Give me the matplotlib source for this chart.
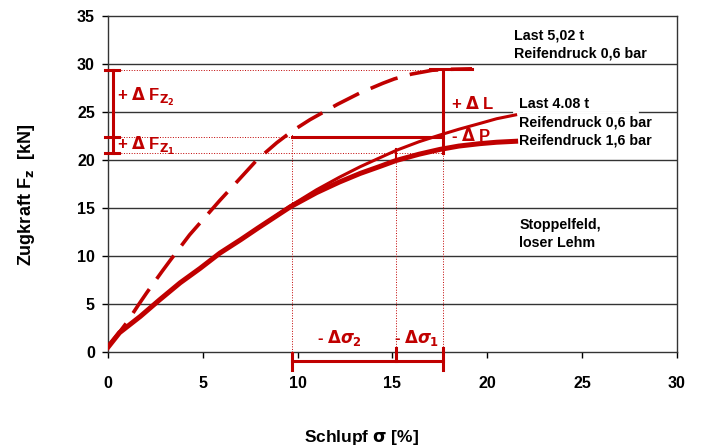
import matplotlib.pyplot as plt

red = "#C00000"
plt.rcParams['font.family'] = ['Liberation Sans', 'DejaVu Sans']
plt.rcParams['font.weight'] = 'bold'

# Last 5,02 t, Reifendruck 0,6 bar (dashed)
x_502 = [0.0, 0.5, 1.0, 1.6, 2.05, 2.85, 3.3, 3.8, 4.3, 5.1, 5.9, 6.6, 7.85, 8.9, 9.7,
         10.65, 12.1, 13.3, 14.5, 15.1, 16.0, 17.1, 18.0, 19.2]
y_502 = [0.6, 1.8, 3.1, 4.9, 6.2, 8.4, 9.6, 10.9, 12.2, 14.0, 15.8, 17.3, 20.0, 21.8, 23.0,
         24.2, 25.8, 27.0, 28.0, 28.45, 28.95, 29.35, 29.45, 29.5]

# Last 4.08 t, Reifendruck 0,6 bar
x_06 = [0.0, 0.6, 1.7, 2.7, 3.8, 4.85, 5.9, 7.0, 7.9, 9.6, 11.0, 12.2, 13.3, 14.3, 15.2,
        16.4, 17.5, 18.5, 19.6, 20.5, 21.5]
y_06 = [0.5, 2.0, 3.7, 5.4, 7.2, 8.7, 10.3, 11.7, 12.9, 15.2, 16.9, 18.2, 19.3, 20.2, 21.0,
        21.9, 22.6, 23.2, 23.8, 24.3, 24.7]

# Last 4.08 t, Reifendruck 1,6 bar
x_16 = [0.0, 0.6, 1.7, 2.7, 3.8, 4.85, 5.9, 7.0, 7.9, 9.6, 11.0, 12.2, 13.3, 14.3, 15.2,
        16.4, 17.5, 18.5, 19.6, 20.5, 21.5]
y_16 = [0.5, 2.0, 3.7, 5.4, 7.2, 8.7, 10.3, 11.7, 12.9, 15.1, 16.6, 17.7, 18.6, 19.3, 19.95,
        20.6, 21.1, 21.45, 21.7, 21.85, 21.95]

# annotation levels
fz_top = 29.4
fz_mid = 22.4
fz_low = 20.7
s_2 = 9.7
s_1 = 15.2
s_0 = 17.65

fig = plt.figure(figsize=(7.02, 4.46), dpi=100)
ax = fig.add_axes([0.154, 0.211, 0.81, 0.753])

ax.set_xlim(0, 30)
ax.set_ylim(0, 35)
ax.set_xticks(range(0, 31, 5))
ax.set_yticks(range(0, 36, 5))
ax.tick_params(labelsize=11.5, length=4, width=1, colors="black", direction="out")
ax.tick_params(axis="x", pad=13)
ax.tick_params(axis="y", pad=5.5)
for s in ax.spines.values():
    s.set_color("#333333")
    s.set_linewidth(1)
for yv in range(5, 35, 5):
    ax.axhline(yv, color="#333333", lw=1, zorder=1)
# gap in the 25 line behind the "Last 4.08 t" text box
ax.plot([21.4, 27.9], [25, 25], color="white", lw=2, zorder=1.5)

# curves
ax.plot(x_502, y_502, color=red, lw=2.6, dashes=(8, 3.5), zorder=3)
ax.plot(x_06, y_06, color=red, lw=2.2, zorder=3)
ax.plot(x_16, y_16, color=red, lw=3.6, zorder=3)

# thin dotted guides
dot = dict(color=red, lw=0.7, ls=":", zorder=2)
ax.plot([0, s_0], [fz_top, fz_top], **dot)
ax.plot([0, s_2], [fz_mid, fz_mid], **dot)
ax.plot([0, s_0], [fz_low, fz_low], **dot)
ax.plot([s_2, s_2], [-1.9, 22.8], clip_on=False, **dot)
ax.plot([s_1, s_1], [0, 20.0], **dot)
ax.plot([s_0, s_0], [0, fz_low], **dot)

# solid annotation lines
sol = dict(color=red, lw=2.2, zorder=4, clip_on=False)
ax.plot([s_2, s_0], [fz_mid, fz_mid], **sol)
ax.plot([s_0, s_0], [fz_top, fz_low], **sol)
ax.plot([17.0, 19.2], [29.5, 29.5], **sol)
ax.plot([s_1, s_1], [20.0, 21.1], color=red, lw=1.5, zorder=4)

# left bracket
ax.plot([0.25, 0.25], [fz_top, fz_low], **sol)
for yv in (fz_top, fz_mid, fz_low):
    ax.plot([-0.15, 0.55], [yv, yv], **sol)

# bottom bracket
ax.plot([s_2, s_0], [-1.0, -1.0], **sol)
ax.plot([s_2, s_2], [-0.1, -1.9], **sol)
ax.plot([s_1, s_1], [0.4, -1.0], **sol)
ax.plot([s_0, s_0], [0.4, -1.9], **sol)

# red labels
rt = dict(color=red, fontsize=12, fontweight="bold", zorder=5)
ax.text(0.45, 26.6, r"+ $\Delta$ F$_{\mathrm{Z_2}}$", va="center", **rt)
ax.text(0.45, 21.5, r"+ $\Delta$ F$_{\mathrm{Z_1}}$", va="center", **rt)
ax.text(18.1, 25.9, r"+ $\Delta$ L", va="center", **rt)
ax.text(18.1, 22.6, r"- $\Delta$ P", va="center", **rt)
ax.text(11.0, 1.4, r"- $\Delta\sigma_2$", va="center", **rt)
ax.text(15.1, 1.4, r"- $\Delta\sigma_1$", va="center", **rt)

# black labels
bt = dict(color="black", fontsize=10.3, fontweight="bold", va="center", zorder=5)
ax.text(21.4, 33.0, "Last 5,02 t", **bt)
ax.text(21.4, 31.1, "Reifendruck 0,6 bar", **bt)
ax.text(21.7, 25.8, "Last 4.08 t", **bt)
ax.text(21.7, 23.9, "Reifendruck 0,6 bar", **bt)
ax.text(21.7, 22.0, "Reifendruck 1,6 bar", **bt)
ax.text(21.7, 13.2, "Stoppelfeld,", **bt)
ax.text(21.7, 11.3, "loser Lehm", **bt)

ax.set_xlabel(r"Schlupf $\mathbf{\sigma}$ [%]", fontsize=12.5, fontweight="bold")
ax.set_ylabel(r"Zugkraft F$_\mathbf{z}$  [kN]", fontsize=13, fontweight="bold")
ax.xaxis.set_label_coords(0.446, -0.226)
ax.yaxis.set_label_coords(-0.125, 0.467)

fig.savefig("out.png", dpi=100)
